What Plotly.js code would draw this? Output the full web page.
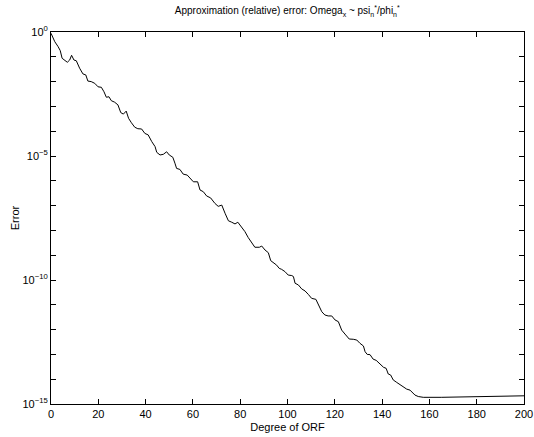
<!DOCTYPE html>
<html>
<head>
<meta charset="utf-8">
<script src="https://cdn.plot.ly/plotly-3.0.1.min.js"></script>
<style>html,body{margin:0;padding:0;background:#fff;}#chart{width:534px;height:437px;}</style>
</head>
<body>
<div id="chart"></div>
<script>
// Degree of ORF
var degree = [0, 1.6, 3, 3.9, 4.7, 5.8, 6.9, 7.9, 8.7, 9.7, 10.7, 12.1, 13.5, 14.7, 15.6, 17, 18.5, 19.9, 21.3, 22.4,
  23.4, 24.5, 25.5, 26.9, 28.3, 29.5, 30.6, 31.8, 32.8, 34, 35.4, 36.7, 38.3, 39.7, 41.1, 42.6, 44, 44.7, 46.1, 47.5,
  48.9, 50, 51.5, 52.4, 53.1, 54.5, 55.9, 57.6, 58.8, 60.2, 62, 63, 64.4, 65.8, 67.5, 69.3, 70.7, 72.2, 73.6, 75,
  76.4, 77.8, 79, 80.6, 82, 83.4, 84.9, 86.2, 88.1, 89.1, 90.5, 91.9, 92.9, 94, 95.4, 96.5, 97.5, 98.9, 100.3, 101.8,
  102.5, 103.2, 104.6, 106, 107.4, 108.8, 110.2, 112, 113, 114.5, 115.8, 117.2, 118.7, 120.1, 121.5, 122.9, 124.3, 126.1, 127.8, 129.3,
  130.6, 132.1, 132.8, 133.7, 134.9, 136.2, 137.5, 139, 140.6, 141.7, 142.6, 143.6, 144.7, 146.2, 147.6, 149, 150.4, 151.8, 152.9, 153.9,
  155.3, 157.4, 165, 175, 185, 200];
// Relative approximation error
var relError = [8.9e-1, 4.07e-1, 2.57e-1, 1.78e-1, 8.71e-2, 7.41e-2, 6.03e-2, 7.41e-2, 1.15e-1, 7.41e-2, 6.92e-2, 3.47e-2, 2.04e-2, 1.86e-2, 1.05e-2, 1.0e-2, 8.51e-3, 6.17e-3, 5.89e-3, 3.89e-3,
  2.34e-3, 2.45e-3, 1.70e-3, 1.48e-3, 1.15e-3, 5.62e-4, 4.90e-4, 6.46e-4, 3.31e-4, 2.19e-4, 1.45e-4, 1.26e-4, 1.23e-4, 8.13e-5, 7.08e-5, 3.80e-5, 2.40e-5, 1.41e-5, 1.10e-5, 1.17e-5,
  1.48e-5, 1.10e-5, 8.91e-6, 5.13e-6, 3.16e-6, 2.88e-6, 1.86e-6, 1.70e-6, 1.26e-6, 9.12e-7, 9.12e-7, 4.27e-7, 3.63e-7, 2.45e-7, 2.04e-7, 1.23e-7, 9.33e-8, 1.05e-7, 4.90e-8, 2.45e-8,
  2.14e-8, 1.82e-8, 2.14e-8, 1.41e-8, 8.91e-9, 5.13e-9, 3.16e-9, 2.09e-9, 2.09e-9, 2.34e-9, 1.62e-9, 1.26e-9, 6.03e-10, 5.01e-10, 3.98e-10, 2.95e-10, 2.69e-10, 2.19e-10, 1.58e-10, 1.51e-10,
  1.38e-10, 7.41e-11, 6.31e-11, 4.37e-11, 3.63e-11, 2.63e-11, 1.82e-11, 1.66e-11, 9.77e-12, 5.25e-12, 3.89e-12, 3.55e-12, 3.55e-12, 2.45e-12, 2.09e-12, 9.55e-13, 6.61e-13, 4.17e-13, 4.07e-13, 3.80e-13,
  2.82e-13, 2.19e-13, 1.29e-13, 1.0e-13, 9.77e-14, 6.46e-14, 5.75e-14, 4.17e-14, 3.02e-14, 2.75e-14, 1.62e-14, 1.48e-14, 9.33e-15, 7.41e-15, 6.17e-15, 5.01e-15, 3.98e-15, 3.63e-15, 2.88e-15, 2.29e-15,
  2.0e-15, 1.86e-15, 1.86e-15, 1.91e-15, 2.0e-15, 2.14e-15];

var xTickVals = [0, 20, 40, 60, 80, 100, 120, 140, 160, 180, 200];
var yTickVals = [1, 1e-5, 1e-10, 1e-15];
var yTickText = ['10<sup>0</sup>', '10<sup>\u22125</sup>', '10<sup>\u221210</sup>', '10<sup>\u221215</sup>'];
var yMinorVals = [1e-1, 1e-2, 1e-3, 1e-4, 1e-6, 1e-7, 1e-8, 1e-9, 1e-11, 1e-12, 1e-13, 1e-14];

var font = 'Liberation Sans, Arial, Helvetica, sans-serif';

var trace = {
  x: degree, y: relError, type: 'scatter', mode: 'lines',
  line: {color: '#000', width: 1}, hoverinfo: 'skip'
};

var layout = {
  width: 534, height: 437,
  margin: {l: 51, r: 10, t: 32, b: 33, pad: 0},
  paper_bgcolor: '#fff', plot_bgcolor: '#fff',
  showlegend: false,
  font: {family: font, size: 11, color: '#000'},
  title: {
    text: 'Approximation (relative) error: Omega<sub>x</sub> ~ psi<sub>n</sub><sup>*</sup>/phi<sub>n</sub><sup>*</sup>',
    font: {family: font, size: 10, color: '#000'},
    x: 0.538, xanchor: 'center', y: 0.975, yanchor: 'middle'
  },
  xaxis: {
    range: [0, 200], tickmode: 'array', tickvals: xTickVals,
    ticks: 'inside', ticklen: 5, tickwidth: 1, tickcolor: '#000',
    showline: true, linecolor: '#000', linewidth: 1, mirror: 'ticks',
    showgrid: false, zeroline: false,
    tickfont: {family: font, size: 11, color: '#000'},
    title: {text: 'Degree of ORF', font: {family: font, size: 11, color: '#000'}, standoff: 4}
  },
  yaxis: {
    type: 'log', range: [-15, 0], tickmode: 'array', tickvals: yTickVals, ticktext: yTickText,
    ticks: 'inside', ticklen: 5, tickwidth: 1, tickcolor: '#000',
    minor: {tickmode: 'array', tickvals: yMinorVals, ticks: 'inside', ticklen: 5, tickwidth: 1, tickcolor: '#000', showgrid: false},
    showline: true, linecolor: '#000', linewidth: 1, mirror: 'ticks',
    showgrid: false, zeroline: false,
    tickfont: {family: font, size: 11, color: '#000'},
    title: {text: 'Error', font: {family: font, size: 11, color: '#000'}, standoff: 0}
  }
};

Plotly.newPlot('chart', [trace], layout, {displayModeBar: false, staticPlot: true});
</script>
</body>
</html>
